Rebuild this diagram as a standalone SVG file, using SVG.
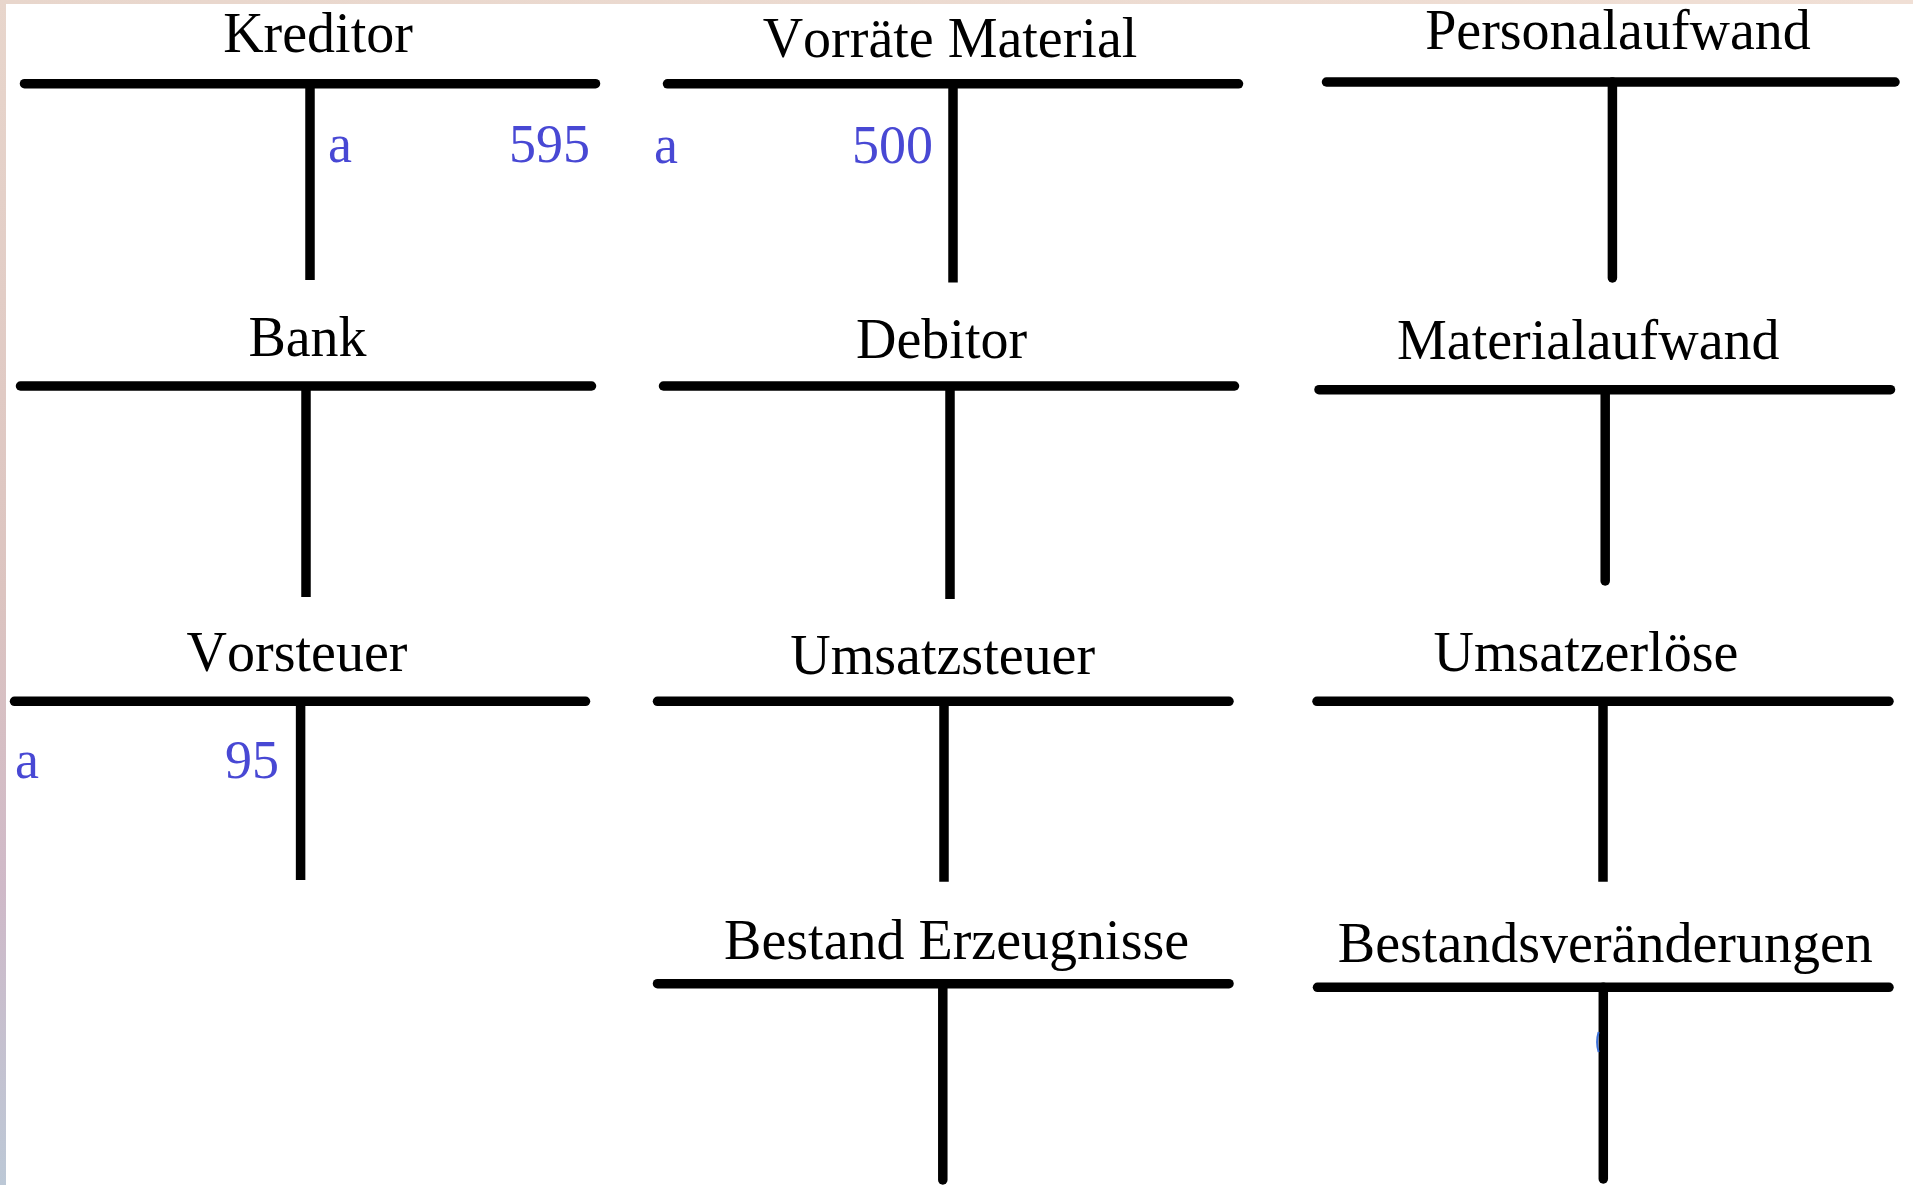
<svg xmlns="http://www.w3.org/2000/svg" width="1913" height="1185" viewBox="0 0 1913 1185">
<defs>
<linearGradient id="leftStrip" x1="0" y1="0" x2="0" y2="1">
<stop offset="0" stop-color="#e8d6cc"/>
<stop offset="0.5" stop-color="#dcc4c0"/>
<stop offset="0.75" stop-color="#cfb9c8"/>
<stop offset="1" stop-color="#bcc8d6"/>
</linearGradient>
<linearGradient id="topStrip" x1="0" y1="0" x2="1" y2="0">
<stop offset="0" stop-color="#e8d6cc"/>
<stop offset="1" stop-color="#f0dfd5"/>
</linearGradient>
</defs>
<style>
.h{stroke:#000;stroke-width:9.5;stroke-linecap:round;fill:none}
.v{stroke:#000;stroke-width:9.5;stroke-linecap:butt;fill:none}
.vr{stroke:#000;stroke-width:9.5;stroke-linecap:round;fill:none}
.t{font-family:"Liberation Serif","Times New Roman",serif;font-size:56px;fill:#000;text-anchor:middle;font-kerning:none}
.e{font-family:"Liberation Serif","Times New Roman",serif;font-size:54px;fill:#4848d4}
.r{text-anchor:end}
</style>
<rect x="0" y="0" width="1913" height="1185" fill="#ffffff"/>
<rect x="0" y="0" width="1913" height="4" fill="url(#topStrip)"/>
<rect x="0" y="0" width="6" height="1185" fill="url(#leftStrip)"/>

<g id="kreditor">
<text class="t" x="318" y="52">Kreditor</text>
<line class="h" x1="24.5" y1="83.7" x2="595.5" y2="83.7"/>
<line class="v" x1="310" y1="83.7" x2="310" y2="280"/>
<text class="e" x="328" y="162">a</text>
<text class="e r" x="590" y="162">595</text>
</g>

<g id="vorraete-material">
<text class="t" x="950" y="57">Vorräte Material</text>
<line class="h" x1="667.5" y1="83.8" x2="1238.5" y2="83.8"/>
<line class="v" x1="953" y1="83.8" x2="953" y2="282.5"/>
<text class="e" x="654" y="163">a</text>
<text class="e r" x="933" y="163">500</text>
</g>

<g id="personalaufwand">
<text class="t" x="1618" y="48.5">Personalaufwand</text>
<line class="h" x1="1326.5" y1="82" x2="1895" y2="82"/>
<line class="vr" x1="1612.4" y1="82" x2="1612.4" y2="278"/>
</g>

<g id="bank">
<text class="t" x="307.5" y="355.7">Bank</text>
<line class="h" x1="20.5" y1="386" x2="591.5" y2="386"/>
<line class="v" x1="306" y1="386" x2="306" y2="597"/>
</g>

<g id="debitor">
<text class="t" x="941.6" y="358.3">Debitor</text>
<line class="h" x1="663.5" y1="386" x2="1234.5" y2="386"/>
<line class="v" x1="950" y1="386" x2="950" y2="599"/>
</g>

<g id="materialaufwand">
<text class="t" x="1588.3" y="359.3">Materialaufwand</text>
<line class="h" x1="1319" y1="389.7" x2="1890.5" y2="389.7"/>
<line class="vr" x1="1605.2" y1="389.7" x2="1605.2" y2="581"/>
</g>

<g id="vorsteuer">
<text class="t" x="297" y="670.7">Vorsteuer</text>
<line class="h" x1="14.5" y1="701.3" x2="585.5" y2="701.3"/>
<line class="v" x1="300.6" y1="701.3" x2="300.6" y2="880"/>
<text class="e" x="15" y="778.3">a</text>
<text class="e r" x="279" y="778.3">95</text>
</g>

<g id="umsatzsteuer">
<text class="t" x="942.7" y="674">Umsatzsteuer</text>
<line class="h" x1="657.5" y1="701.3" x2="1229" y2="701.3"/>
<line class="v" x1="944" y1="701.3" x2="944" y2="881.7"/>
</g>

<g id="umsatzerloese">
<text class="t" x="1585.9" y="670.7">Umsatzerlöse</text>
<line class="h" x1="1317" y1="701.3" x2="1889" y2="701.3"/>
<line class="v" x1="1603" y1="701.3" x2="1603" y2="881.7"/>
</g>

<g id="bestand-erzeugnisse">
<text class="t" x="956.6" y="959">Bestand Erzeugnisse</text>
<line class="h" x1="657.5" y1="983.7" x2="1229" y2="983.7"/>
<line class="vr" x1="942.8" y1="983.7" x2="942.8" y2="1180"/>
</g>

<g id="bestandsveraenderungen">
<text class="t" x="1605.3" y="961.7">Bestandsveränderungen</text>
<line class="h" x1="1317.5" y1="987.3" x2="1889" y2="987.3"/>
<line class="vr" x1="1603.3" y1="987.3" x2="1603.3" y2="1179"/>
<path d="M1598.6,1032 Q1595.6,1042 1598.6,1052" stroke="#3a6fd8" stroke-width="2" fill="none"/>
</g>

<g id="connectors"></g>
</svg>
